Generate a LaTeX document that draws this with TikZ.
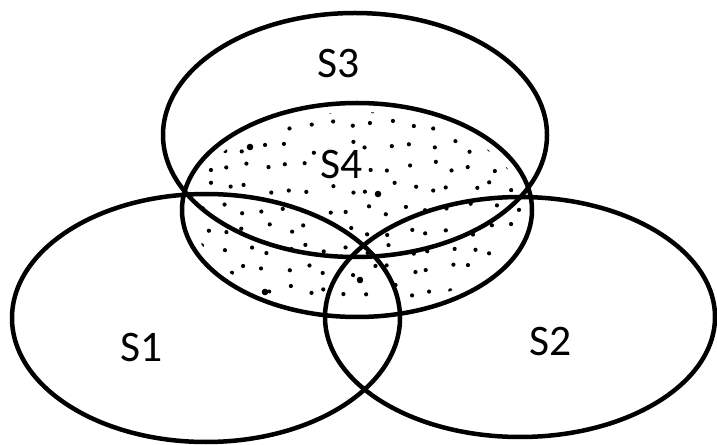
\documentclass[tikz,border=0pt]{standalone}
\usepackage{fontspec}
\setmainfont{Carlito}
\usepackage{tikz}
\usetikzlibrary{positioning}
\tikzset{
  % Insiemi
  set line/.style={line width=3.2pt,black},
  set label/.style={font=\fontsize{31}{36}\selectfont,inner sep=1pt,fill=white},
  % Puntinatura di S4
  speck/.style={fill=black},
  big speck/.style={fill=black}
}
\begin{document}
\begin{tikzpicture}[x=0.025cm,y=0.025cm]
    \useasboundingbox (0,0) rectangle (717,-445);
    \coordinate (c1) at (206,-318);
    \coordinate (c2) at (520,-317);
    \coordinate (c3) at (355,-135);
    \coordinate (c4) at (357,-210);
    % puntini dentro S4
    \pgfmathsetseed{4217}
    \begin{scope}
      \clip (c4) ellipse [x radius=166, y radius=98];
      \foreach \i in {0,...,17}{
        \foreach \j in {0,...,10}{
          \pgfmathsetmacro{\px}{185+\i*20.5+6*rand}
          \pgfmathsetmacro{\py}{106+\j*20.5+6*rand}
          \fill[speck] (\px,-\py) circle (2.1);
        }
      }
    \end{scope}
    \fill[big speck] (250,-147) circle (3.3);
    \fill[big speck] (378,-194) circle (3.3);
    \fill[big speck] (265,-292) circle (3.3);
    \fill[big speck] (360,-280) circle (3.3);
    % ellissi
    \draw[set line] (c3) ellipse [x radius=192, y radius=122];
    \draw[set line] (c4) ellipse [x radius=175, y radius=107];
    \draw[set line] (c1) ellipse [x radius=194, y radius=124];
    \draw[set line] (c2) ellipse [x radius=195, y radius=120];
    % etichette
    \node[set label] (l3) at (339,-64) {S3};
    \node[set label] (l4) at (342,-165) {S4};
    \node[set label] (l1) at (142,-348) {S1};
    \node[set label] (l2) at (551,-342) {S2};
\end{tikzpicture}
\end{document}
